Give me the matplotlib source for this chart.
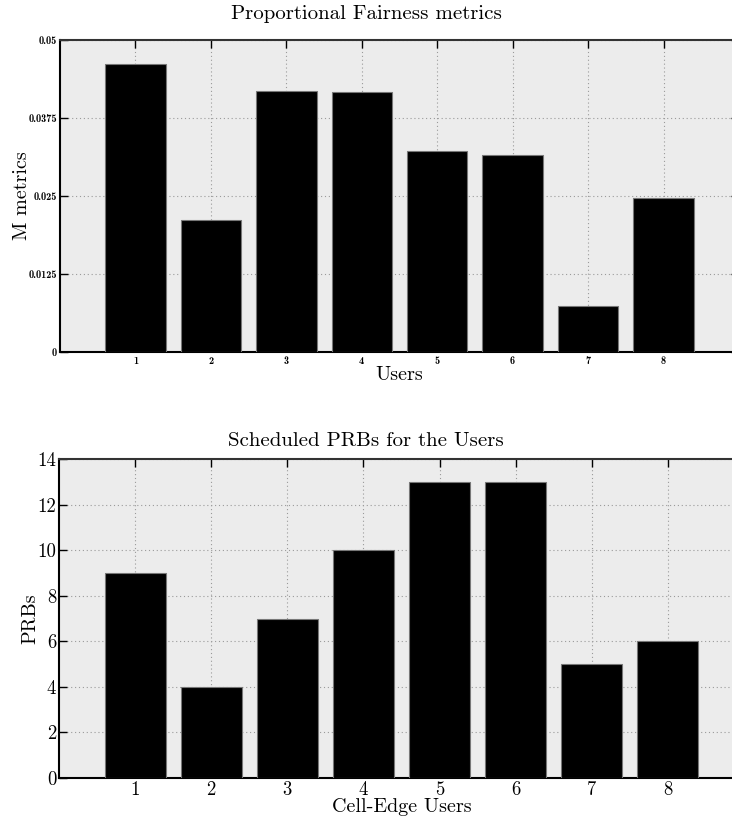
import matplotlib
matplotlib.use("Agg")
import matplotlib.pyplot as plt

# Data
users = [1, 2, 3, 4, 5, 6, 7, 8]
pf_metrics = [0.0462, 0.0212, 0.0419, 0.0417, 0.0322, 0.0316, 0.0073, 0.0246]
prbs = [9, 4, 7, 10, 13, 13, 5, 6]
pf_yticks = [0, 0.0125, 0.025, 0.0375, 0.05]
pf_yticklabels = ["0", "0.0125", "0.025", "0.0375", "0.05"]
prb_yticks = [0, 2, 4, 6, 8, 10, 12, 14]

W, H = 732, 816
fig = plt.figure(figsize=(W / 100, H / 100), dpi=100)

BG = "#ececec"
SERIF = "cmr10"
LABEL_FS = 14.5
TITLE_FS = 15


def style_axes(ax):
    ax.set_facecolor(BG)
    ax.set_axisbelow(True)
    ax.grid(True, linestyle=(0, (1, 2.5)), color="#9a9a9a", linewidth=0.8)
    ax.tick_params(direction="in", length=6, width=1, top=True, right=True,
                   color="black")
    for s in ax.spines.values():
        s.set_linewidth(1.5)
        s.set_color("black")
    ax.spines["top"].set_color("#333333")


def place_labels(ax, x_y_px, y_x_px, left_px, bottom_px, width_px, height_px):
    # position axis labels by pixel centre
    ax.xaxis.label.set_va("center")
    ax.xaxis.set_label_coords(0.5, -(x_y_px - bottom_px) / height_px)
    ax.yaxis.label.set_va("center")
    ax.yaxis.set_label_coords((y_x_px - left_px) / width_px, 0.5)


# Top panel: proportional fairness metrics
L1, B1, R1, T1 = 60, 352, 739, 40
ax1 = fig.add_axes([L1 / W, (H - B1) / H, (R1 - L1) / W, (B1 - T1) / H])
style_axes(ax1)
ax1.bar(users, pf_metrics, width=0.8, color="black", edgecolor="#777777",
        linewidth=0.8, zorder=3)
ax1.set_xlim(0, 9)
ax1.set_ylim(0, 0.05)
ax1.set_xticks(users)
ax1.set_xticklabels([str(u) for u in users], fontfamily="cmb10", fontsize=7.5)
ax1.set_yticks(pf_yticks)
ax1.set_yticklabels(pf_yticklabels, fontfamily="cmb10", fontsize=7.5)
ax1.tick_params(axis="x", pad=3)
ax1.tick_params(axis="y", pad=2)
ax1.set_xlabel("Users", fontfamily=SERIF, fontsize=LABEL_FS)
ax1.set_ylabel("M metrics", fontfamily=SERIF, fontsize=LABEL_FS)
place_labels(ax1, 375, 22, L1, B1, R1 - L1, B1 - T1)
fig.text(366 / W, 1 - 14 / H, "Proportional Fairness metrics",
         fontfamily=SERIF, fontsize=TITLE_FS, ha="center", va="center")

# Bottom panel: scheduled PRBs
L2, B2, R2, T2 = 59, 778, 744, 459
ax2 = fig.add_axes([L2 / W, (H - B2) / H, (R2 - L2) / W, (B2 - T2) / H])
style_axes(ax2)
ax2.bar(users, prbs, width=0.8, color="black", edgecolor="#777777",
        linewidth=0.8, zorder=3)
ax2.set_xlim(0, 9)
ax2.set_ylim(0, 14)
ax2.set_xticks(users)
ax2.set_xticklabels([str(u) for u in users], fontfamily=SERIF, fontsize=13.5)
ax2.set_yticks(prb_yticks)
ax2.set_yticklabels([str(v) for v in prb_yticks], fontfamily=SERIF,
                    fontsize=13.5)
ax2.tick_params(axis="x", pad=2)
ax2.tick_params(axis="y", pad=2)
ax2.set_xlabel("Cell-Edge Users", fontfamily=SERIF, fontsize=LABEL_FS)
ax2.set_ylabel("PRBs", fontfamily=SERIF, fontsize=LABEL_FS)
place_labels(ax2, 807, 30, L2, B2, R2 - L2, B2 - T2)
fig.text(366 / W, 1 - 441 / H, "Scheduled PRBs for the Users",
         fontfamily=SERIF, fontsize=TITLE_FS, ha="center", va="center")

fig.savefig("out.png", dpi=100)
